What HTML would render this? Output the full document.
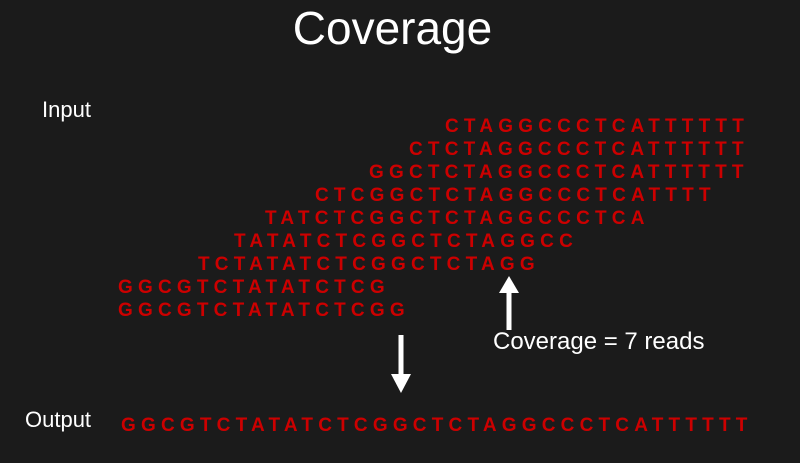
<!DOCTYPE html>
<html><head><meta charset="utf-8"><style>
body{margin:0;background:#1b1b1b;}
#c{position:relative;width:800px;height:463px;overflow:hidden;background:#1b1b1b;font-family:"Liberation Sans",sans-serif;}
.t{position:absolute;color:#fff;white-space:nowrap;}
.r{position:absolute;color:#cc0000;font-weight:bold;font-size:19px;letter-spacing:5.2px;white-space:nowrap;line-height:19px;}
</style></head><body>
<div id="c">
<div class="t" style="left:0;width:785px;text-align:center;top:1px;font-size:46px;">Coverage</div>
<div class="t" style="left:42px;top:97px;font-size:22px;">Input</div>
<div class="t" style="left:25px;top:407px;font-size:22px;">Output</div>
<div class="r" style="left:445px;top:117px;">CTAGGCCCTCATTTTTT</div>
<div class="r" style="left:409px;top:140px;">CTCTAGGCCCTCATTTTTT</div>
<div class="r" style="left:369px;top:163px;">GGCTCTAGGCCCTCATTTTTT</div>
<div class="r" style="left:315px;top:186px;">CTCGGCTCTAGGCCCTCATTTT</div>
<div class="r" style="left:265px;top:209px;">TATCTCGGCTCTAGGCCCTCA</div>
<div class="r" style="left:234px;top:232px;">TATATCTCGGCTCTAGGCC</div>
<div class="r" style="left:198px;top:255px;">TCTATATCTCGGCTCTAGG</div>
<div class="r" style="left:118px;top:278px;">GGCGTCTATATCTCG</div>
<div class="r" style="left:118px;top:301px;">GGCGTCTATATCTCGG</div>
<div class="r" style="left:121px;top:416px;">GGCGTCTATATCTCGGCTCTAGGCCCTCATTTTTT</div>
<div class="t" style="left:493px;top:328px;font-size:24px;">Coverage = 7 reads</div>
<svg width="800" height="463" style="position:absolute;left:0;top:0">
<g fill="#fff" stroke="none">
<rect x="506.5" y="290" width="5" height="40"/>
<polygon points="499,293 509,276 519,293"/>
</g>
<g fill="#fff" stroke="none">
<rect x="398.5" y="335" width="5" height="42"/>
<polygon points="391,374 401,393 411,374"/>
</g>
</svg>
</div>
</body></html>
